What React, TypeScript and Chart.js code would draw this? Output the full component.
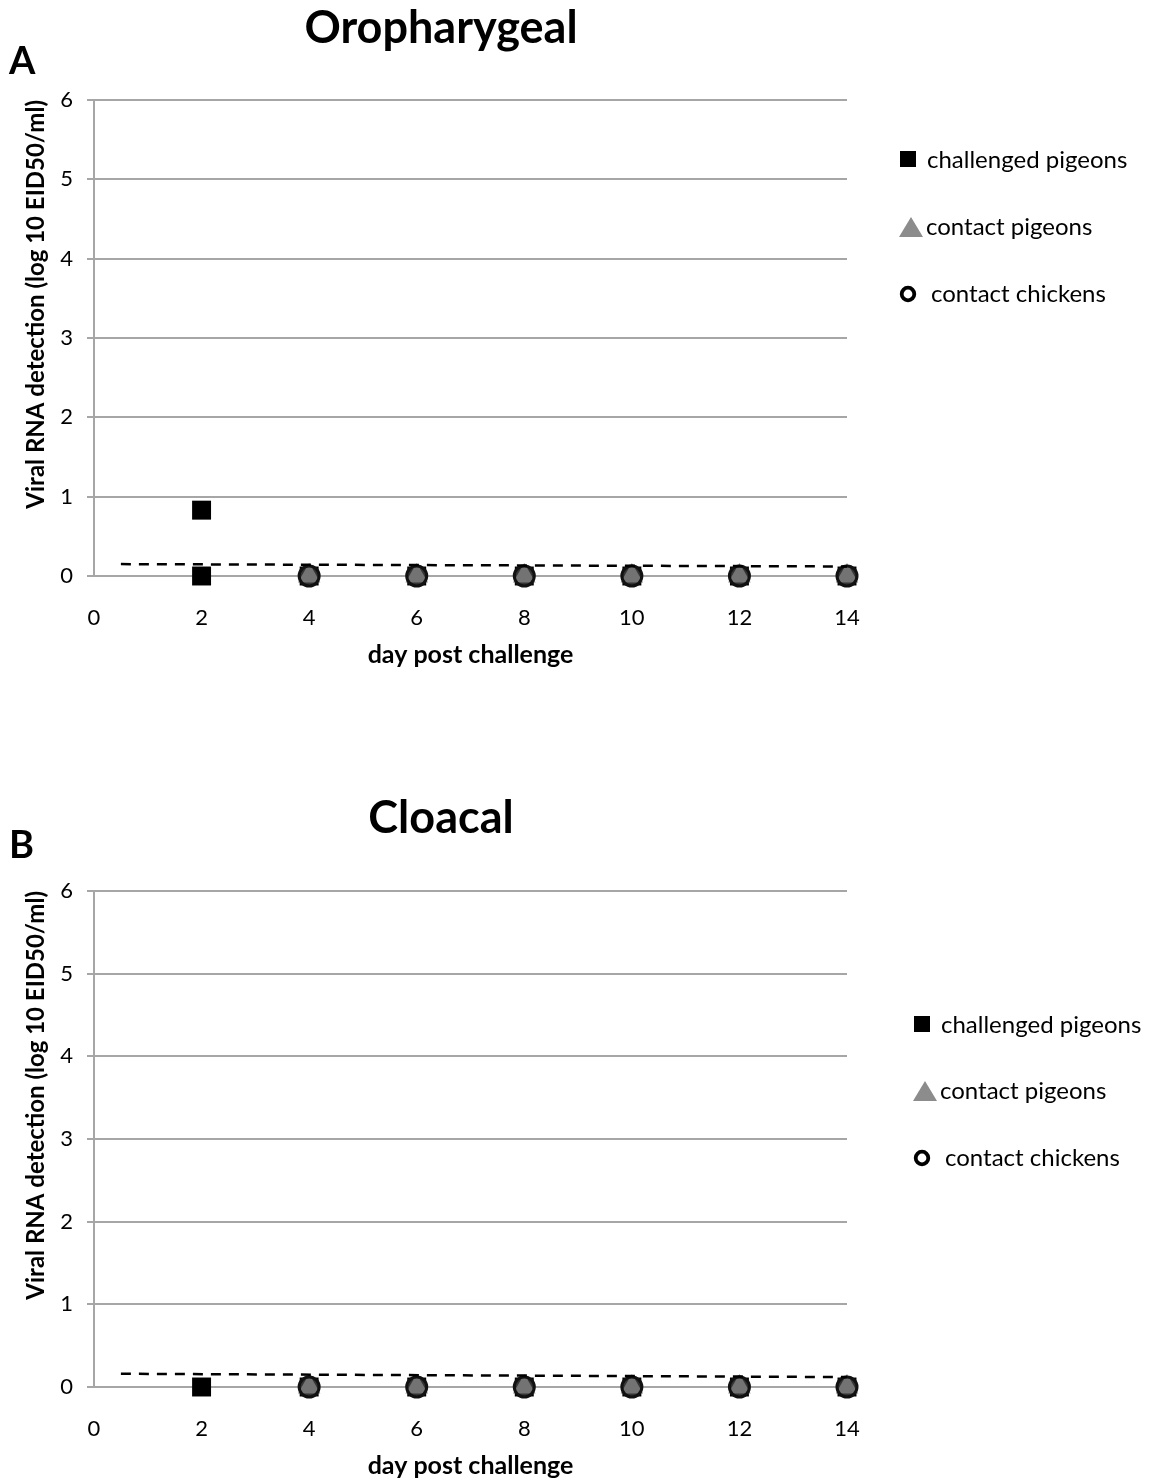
import React, { useEffect, useRef } from "react";
import { Chart, registerables } from "chart.js";

Chart.register(...registerables);

// ---------- data ----------
const xTickValues = [0, 2, 4, 6, 8, 10, 12, 14];
const yTickValues = [0, 1, 2, 3, 4, 5, 6];
const legendLabels = ["challenged pigeons", "contact pigeons", "contact chickens"];

// Panel A: Oropharygeal
const oroChallengedDays = [2, 2, 4, 6, 8, 10, 12, 14];
const oroChallengedValues = [0.83, 0, 0, 0, 0, 0, 0, 0];
const oroPigeonDays = [4, 6, 8, 10, 12, 14];
const oroPigeonValues = [0, 0, 0, 0, 0, 0];
const oroChickenDays = [4, 6, 8, 10, 12, 14];
const oroChickenValues = [0, 0, 0, 0, 0, 0];
const oroLimitDays = [0.5, 14];
const oroLimitValues = [0.15, 0.12];

// Panel B: Cloacal
const cloChallengedDays = [2, 4, 6, 8, 10, 12, 14];
const cloChallengedValues = [0, 0, 0, 0, 0, 0, 0];
const cloPigeonDays = [4, 6, 8, 10, 12, 14];
const cloPigeonValues = [0, 0, 0, 0, 0, 0];
const cloChickenDays = [4, 6, 8, 10, 12, 14];
const cloChickenValues = [0, 0, 0, 0, 0, 0];
const cloLimitDays = [0.5, 14];
const cloLimitValues = [0.16, 0.12];

const FONT = "Lato, 'Open Sans', sans-serif";
const GRID = "#a6a6a6";

const pts = (xs: number[], ys: number[]) => xs.map((x, i) => ({ x, y: ys[i] }));

type PanelProps = {
  top: number;
  height: number;
  padTop: number;
  padBottom: number;
  title: string;
  titleY: number;
  letter: string;
  letterY: number;
  legendX: number;
  legendY: number[];
  chDays: number[];
  chVals: number[];
  pgDays: number[];
  pgVals: number[];
  ckDays: number[];
  ckVals: number[];
  lodDays: number[];
  lodVals: number[];
};

function Panel(p: PanelProps) {
  const ref = useRef<HTMLCanvasElement | null>(null);
  useEffect(() => {
    if (!ref.current) return;
    const textPlugin = {
      id: "panelText",
      afterDraw(chart: any) {
        const ctx = chart.ctx as CanvasRenderingContext2D;
        ctx.save();
        ctx.fillStyle = "#000";
        ctx.textBaseline = "middle";
        ctx.textAlign = "center";
        ctx.font = `bold 45px ${FONT}`;
        ctx.fillText(p.title, 441, p.titleY);
        ctx.textAlign = "left";
        ctx.font = `bold 38px ${FONT}`;
        ctx.fillText(p.letter, 9, p.letterY);
        // legend
        const lx = p.legendX;
        const [y1, y2, y3] = p.legendY;
        ctx.fillStyle = "#000";
        ctx.fillRect(lx - 8, y1 - 8, 16, 16);
        ctx.fillStyle = "#8c8c8c";
        ctx.beginPath();
        ctx.moveTo(lx + 3, y2 - 10);
        ctx.lineTo(lx + 15, y2 + 10);
        ctx.lineTo(lx - 9, y2 + 10);
        ctx.closePath();
        ctx.fill();
        ctx.strokeStyle = "#000";
        ctx.lineWidth = 3.8;
        ctx.beginPath();
        ctx.arc(lx, y3, 6.3, 0, Math.PI * 2);
        ctx.stroke();
        ctx.fillStyle = "#000";
        ctx.font = `24px ${FONT}`;
        ctx.textAlign = "left";
        ctx.fillText(legendLabels[0], lx + 19, y1 + 1);
        ctx.fillText(legendLabels[1], lx + 18, y2);
        ctx.fillText(legendLabels[2], lx + 23, y3);
        ctx.restore();
      },
    };

    const chart = new Chart(ref.current, {
      type: "scatter",
      data: {
        datasets: [
          {
            type: "line",
            label: "limit",
            data: pts(p.lodDays, p.lodVals),
            borderColor: "#000",
            borderWidth: 2.5,
            borderDash: [10, 8],
            pointRadius: 0,
            showLine: true,
            clip: false,
            order: 0,
          } as any,
          {
            label: legendLabels[2],
            data: pts(p.ckDays, p.ckVals),
            pointStyle: "circle",
            pointRadius: 10,
            backgroundColor: "rgba(95,95,95,0.55)",
            borderColor: "#111",
            borderWidth: 3,
            clip: false,
            order: 1,
          },
          {
            label: legendLabels[1],
            data: pts(p.pgDays, p.pgVals),
            pointStyle: "triangle",
            pointRadius: 13,
            backgroundColor: "#8c8c8c",
            borderWidth: 0,
            clip: false,
            order: 2,
          },
          {
            label: legendLabels[0],
            data: pts(p.chDays, p.chVals),
            pointStyle: "rect",
            pointRadius: 13.4,
            backgroundColor: "#000",
            borderColor: "#000",
            borderWidth: 0,
            clip: false,
            order: 3,
          },
        ],
      },
      options: {
        responsive: false,
        animation: false,
        devicePixelRatio: 1,
        layout: { padding: { top: p.padTop, right: 327, bottom: p.padBottom, left: 0 } },
        plugins: { legend: { display: false }, tooltip: { enabled: false } },
        scales: {
          x: {
            type: "linear",
            min: 0,
            max: 14,
            afterBuildTicks: (s: any) => {
              s.ticks = xTickValues.map((v) => ({ value: v }));
            },
            afterFit: (s: any) => {
              s.height = 94;
            },
            grid: { display: true, color: "rgba(0,0,0,0)", drawTicks: false },
            border: { display: true, color: GRID, width: 2 },
            ticks: { color: "#000", font: { family: FONT, size: 22 }, padding: 29, maxRotation: 0 },
            title: {
              display: true,
              text: "day post challenge",
              color: "#000",
              font: { family: FONT, size: 25, weight: "bold" },
              padding: { top: 0, bottom: 0 },
            },
          },
          y: {
            type: "linear",
            min: 0,
            max: 6,
            afterBuildTicks: (s: any) => {
              s.ticks = yTickValues.map((v) => ({ value: v }));
            },
            afterFit: (s: any) => {
              s.width = 94;
            },
            grid: { color: GRID, lineWidth: 2, drawTicks: true, tickLength: 7 },
            border: { display: true, color: GRID, width: 2 },
            ticks: { color: "#000", font: { family: FONT, size: 22 }, padding: 14 },
            title: {
              display: true,
              text: "Viral RNA detection (log 10 EID50/ml)",
              color: "#000",
              align: "end",
              font: { family: FONT, size: 24, weight: "bold" },
              padding: { top: 22, bottom: 0 },
            },
          },
        },
      } as any,
      plugins: [textPlugin],
    });
    return () => chart.destroy();
  }, []);
  return (
    <canvas
      ref={ref}
      width={1174}
      height={p.height}
      style={{ position: "absolute", left: 0, top: p.top, width: 1174, height: p.height, display: "block" }}
    />
  );
}

const legendRowsA = [159, 227, 294];
const legendRowsB = [264, 331, 398];

export default function App() {
  return (
    <div style={{ position: "absolute", left: 0, top: 0, width: 1174, height: 1481, background: "#fff" }}>
      <Panel
        top={0}
        height={700}
        padTop={100}
        padBottom={30}
        title="Oropharygeal"
        titleY={28}
        letter="A"
        letterY={62}
        legendX={908}
        legendY={legendRowsA}
        chDays={oroChallengedDays}
        chVals={oroChallengedValues}
        pgDays={oroPigeonDays}
        pgVals={oroPigeonValues}
        ckDays={oroChickenDays}
        ckVals={oroChickenValues}
        lodDays={oroLimitDays}
        lodVals={oroLimitValues}
      />
      <Panel
        top={760}
        height={721}
        padTop={131}
        padBottom={0}
        title="Cloacal"
        titleY={58}
        letter="B"
        letterY={86}
        legendX={922}
        legendY={legendRowsB}
        chDays={cloChallengedDays}
        chVals={cloChallengedValues}
        pgDays={cloPigeonDays}
        pgVals={cloPigeonValues}
        ckDays={cloChickenDays}
        ckVals={cloChickenValues}
        lodDays={cloLimitDays}
        lodVals={cloLimitValues}
      />
    </div>
  );
}
